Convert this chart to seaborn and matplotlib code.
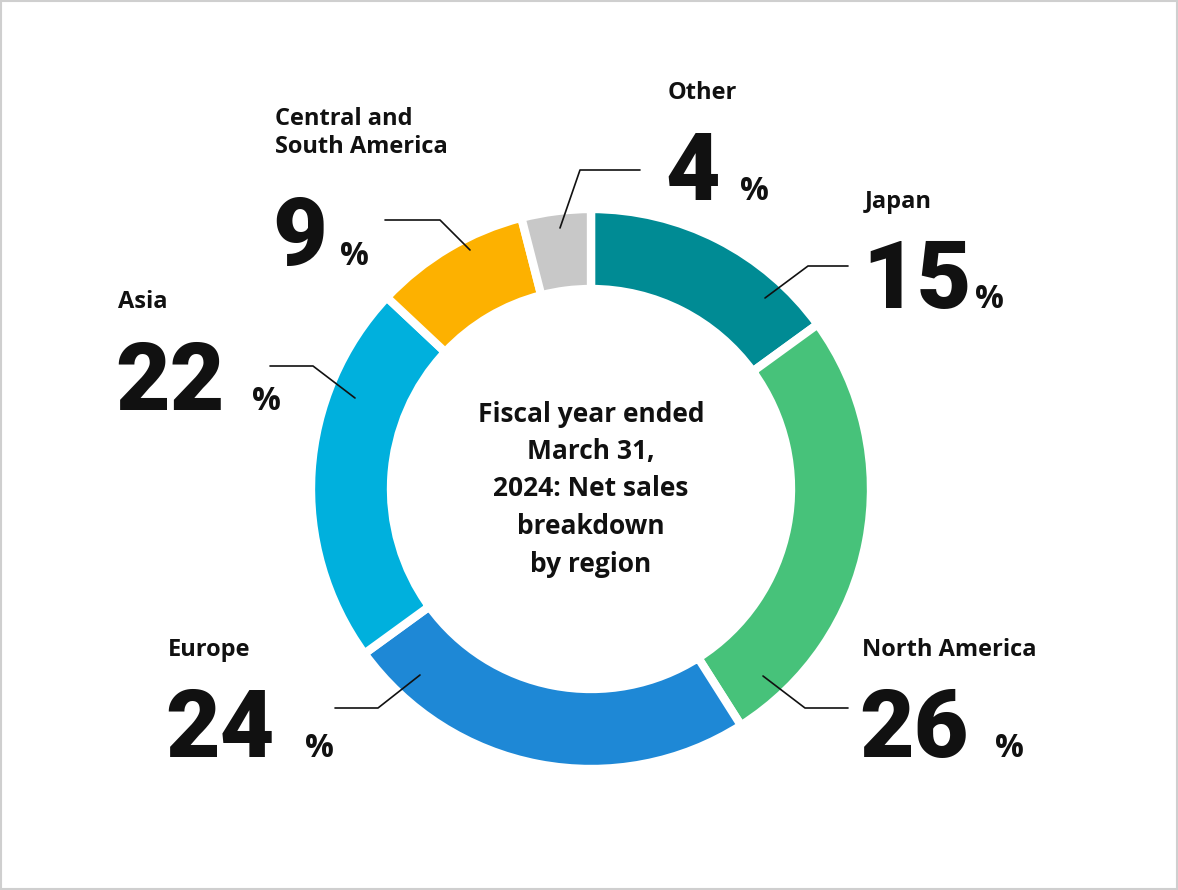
import matplotlib
matplotlib.use("Agg")
import matplotlib.pyplot as plt
import seaborn as sns
from matplotlib.patches import Rectangle

sns.set_theme(style="white")

regions = ["Japan", "North America", "Europe", "Asia", "Central and\nSouth America", "Other"]
shares = [15, 26, 24, 22, 9, 4]
colors = ["#008B94", "#47C27A", "#1E88D6", "#00B0DD", "#FDB100", "#C8C8C8"]

W, H = 1178, 890
fig = plt.figure(figsize=(W / 100, H / 100), dpi=100)
ax = fig.add_axes([0, 0, 1, 1])
ax.add_patch(Rectangle((1, 1), W - 2, H - 2, fill=False, edgecolor="#CFCFCF", lw=1.5))

cx, cy = 591, H - 489
ax.pie(shares, colors=colors, startangle=90, counterclock=False, radius=280,
       center=(cx, cy), frame=True,
       wedgeprops=dict(width=80, edgecolor="white", linewidth=6))
ax.set_xlim(0, W)
ax.set_ylim(0, H)
ax.set_aspect("equal")
ax.axis("off")

FONT = "Open Sans"
ax.text(cx, cy, "Fiscal year ended\nMarch 31,\n2024: Net sales\nbreakdown\nby region",
        ha="center", va="center", fontsize=19, fontweight="bold",
        family=FONT, linespacing=1.5, color="#111111")

layout = [
    (865, 202, 308, 975, [(765, 298), (808, 266), (848, 266)]),
    (862, 650, 757, 995, [(763, 676), (805, 708), (848, 708)]),
    (168, 650, 757, 305, [(420, 675), (378, 708), (335, 708)]),
    (118, 302, 410, 252, [(355, 398), (313, 366), (270, 366)]),
    (275, 133, 265, 340, [(470, 250), (440, 220), (385, 220)]),
    (668, 93, 200, 740, [(560, 228), (580, 170), (640, 170)]),
]
for name, val, (lx, ly, nb, px, pts) in zip(regions, shares, layout):
    ax.text(lx, H - ly, name, ha="left", va="center", fontsize=17, fontweight="bold",
            family=FONT, color="#111111", linespacing=1.2)
    ax.text(lx - 3, H - nb, str(val), ha="left", va="baseline", fontsize=68,
            fontweight="heavy", family="Roboto", color="#111111")
    ax.text(px, H - nb, "%", ha="left", va="baseline", fontsize=23,
            fontweight="bold", family=FONT, color="#111111")
    ax.plot([p[0] for p in pts], [H - p[1] for p in pts], color="#111111", lw=1.2)

fig.savefig("out.png", dpi=100)
